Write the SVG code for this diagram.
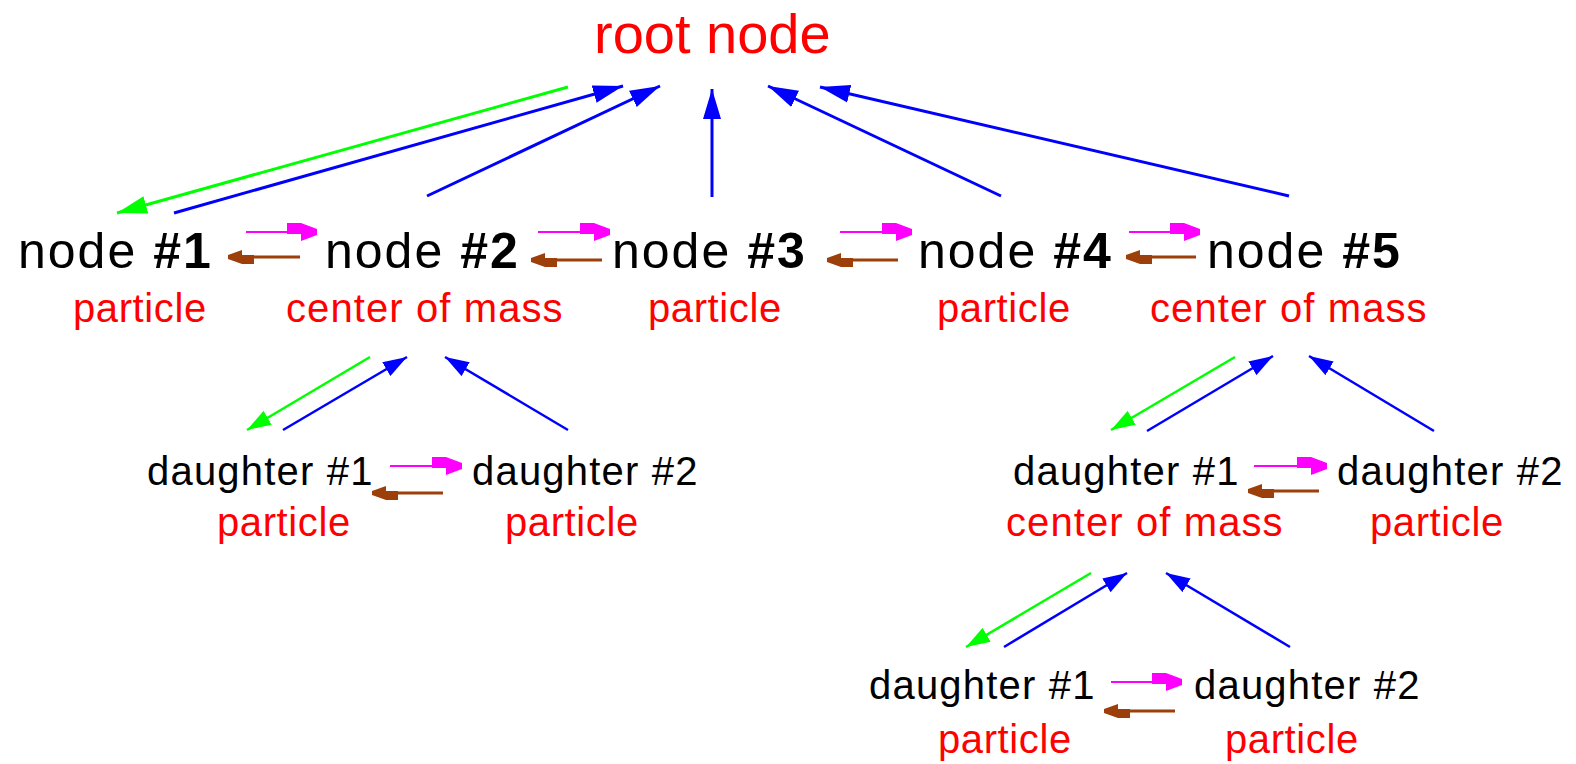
<svg xmlns="http://www.w3.org/2000/svg" width="1576" height="764" viewBox="0 0 1576 764">
  <style>
    text { font-family: "Liberation Sans", Arial, sans-serif; }
    .root { font-size: 56px; fill: #ff0000; }
    .node { font-size: 50px; fill: #000000; letter-spacing: 2px; }
    .node .num { font-weight: bold; }
    .kind { font-size: 40px; fill: #ff0000; letter-spacing: 0.6px; }
    .kind.com { letter-spacing: 1.1px; }
    .dau { font-size: 40px; fill: #000000; letter-spacing: 1.2px; }
    .up { stroke: #0000ff; fill: none; }
    .down { stroke: #00ff00; fill: none; }
    .next { stroke: #ff00ff; stroke-width: 2; fill: none; }
    .prev { stroke: #9c3f0a; stroke-width: 3; fill: none; }
    .big { stroke-width: 3; }
    .small { stroke-width: 2.5; }
  </style>
  <defs>
    <!-- tree links: large heads for the top level, smaller ones below -->
    <marker id="blueL" markerUnits="userSpaceOnUse" markerWidth="30" markerHeight="20" refX="30" refY="10" orient="auto">
      <path d="M0,1 L30,10 L0,19 z" fill="#0000ff"/>
    </marker>
    <marker id="greenL" markerUnits="userSpaceOnUse" markerWidth="30" markerHeight="20" refX="30" refY="10" orient="auto">
      <path d="M0,1 L30,10 L0,19 z" fill="#00ff00"/>
    </marker>
    <marker id="blueS" markerUnits="userSpaceOnUse" markerWidth="24" markerHeight="16" refX="24" refY="8" orient="auto">
      <path d="M0,0 L24,8 L0,16 z" fill="#0000ff"/>
    </marker>
    <marker id="greenS" markerUnits="userSpaceOnUse" markerWidth="24" markerHeight="16" refX="24" refY="8" orient="auto">
      <path d="M0,0 L24,8 L0,16 z" fill="#00ff00"/>
    </marker>
    <!-- sibling links -->
    <marker id="magHead" markerUnits="userSpaceOnUse" markerWidth="30" markerHeight="18" refX="30" refY="9" orient="auto">
      <path d="M0,0 L14,0 L30,6 L30,12 L14,18 L14,11 L0,11 z" fill="#ff00ff"/>
    </marker>
    <marker id="brnHead" markerUnits="userSpaceOnUse" markerWidth="26" markerHeight="14" refX="26" refY="7" orient="auto">
      <path d="M0,0 L12,0 L26,5 L26,9 L12,14 L12,9 L0,9 z" fill="#9c3f0a"/>
    </marker>
  </defs>

  <g id="connectors">
    <!-- root level -->
    <line class="down big" x1="568" y1="87" x2="117" y2="213" marker-end="url(#greenL)"/>
    <line class="up big" x1="174" y1="213" x2="623" y2="86" marker-end="url(#blueL)"/>
    <line class="up big" x1="427" y1="196" x2="660" y2="86" marker-end="url(#blueL)"/>
    <line class="up big" x1="712" y1="197" x2="712" y2="89" marker-end="url(#blueL)"/>
    <line class="up big" x1="1001" y1="196" x2="768" y2="86" marker-end="url(#blueL)"/>
    <line class="up big" x1="1289" y1="196" x2="820" y2="87" marker-end="url(#blueL)"/>
    <!-- sibling chain, level 1 -->
    <line class="next" x1="246" y1="232" x2="317" y2="232" marker-end="url(#magHead)"/>
    <line class="prev" x1="300" y1="257" x2="228" y2="257" marker-end="url(#brnHead)"/>
    <line class="next" x1="538" y1="232" x2="610" y2="232" marker-end="url(#magHead)"/>
    <line class="prev" x1="602" y1="260" x2="531" y2="260" marker-end="url(#brnHead)"/>
    <line class="next" x1="840" y1="232" x2="912" y2="232" marker-end="url(#magHead)"/>
    <line class="prev" x1="898" y1="260" x2="827" y2="260" marker-end="url(#brnHead)"/>
    <line class="next" x1="1129" y1="232" x2="1200" y2="232" marker-end="url(#magHead)"/>
    <line class="prev" x1="1196" y1="257" x2="1126" y2="257" marker-end="url(#brnHead)"/>
    <!-- children of node #2 -->
    <line class="down small" x1="370" y1="357" x2="247" y2="430" marker-end="url(#greenS)"/>
    <line class="up small" x1="283" y1="430" x2="407" y2="357" marker-end="url(#blueS)"/>
    <line class="up small" x1="568" y1="430" x2="445" y2="357" marker-end="url(#blueS)"/>
    <line class="next" x1="390" y1="466" x2="462" y2="466" marker-end="url(#magHead)"/>
    <line class="prev" x1="443" y1="493" x2="372" y2="493" marker-end="url(#brnHead)"/>
    <!-- children of node #5 -->
    <line class="down small" x1="1235" y1="357" x2="1111" y2="430" marker-end="url(#greenS)"/>
    <line class="up small" x1="1147" y1="431" x2="1273" y2="356" marker-end="url(#blueS)"/>
    <line class="up small" x1="1434" y1="431" x2="1309" y2="356" marker-end="url(#blueS)"/>
    <line class="next" x1="1254" y1="466" x2="1327" y2="466" marker-end="url(#magHead)"/>
    <line class="prev" x1="1319" y1="491" x2="1248" y2="491" marker-end="url(#brnHead)"/>
    <!-- children of node #5 / daughter #1 -->
    <line class="down small" x1="1091" y1="573" x2="966" y2="647" marker-end="url(#greenS)"/>
    <line class="up small" x1="1004" y1="647" x2="1127" y2="573" marker-end="url(#blueS)"/>
    <line class="up small" x1="1290" y1="647" x2="1166" y2="573" marker-end="url(#blueS)"/>
    <line class="next" x1="1111" y1="682" x2="1182" y2="682" marker-end="url(#magHead)"/>
    <line class="prev" x1="1175" y1="711" x2="1104" y2="711" marker-end="url(#brnHead)"/>
  </g>

  <g id="root">
    <text class="root" x="594" y="53">root node</text>
  </g>

  <g id="node1">
    <text class="node" x="18" y="268">node <tspan class="num">#1</tspan></text>
    <text class="kind" x="73" y="322">particle</text>
  </g>
  <g id="node2">
    <text class="node" x="325" y="268">node <tspan class="num">#2</tspan></text>
    <text class="kind com" x="286" y="322">center of mass</text>
  </g>
  <g id="node3">
    <text class="node" x="612" y="268">node <tspan class="num">#3</tspan></text>
    <text class="kind" x="648" y="322">particle</text>
  </g>
  <g id="node4">
    <text class="node" x="918" y="268">node <tspan class="num">#4</tspan></text>
    <text class="kind" x="937" y="322">particle</text>
  </g>
  <g id="node5">
    <text class="node" x="1207" y="268">node <tspan class="num">#5</tspan></text>
    <text class="kind com" x="1150" y="322">center of mass</text>
  </g>

  <g id="node2-daughter1">
    <text class="dau" x="147" y="485">daughter #1</text>
    <text class="kind" x="217" y="536">particle</text>
  </g>
  <g id="node2-daughter2">
    <text class="dau" x="472" y="485">daughter #2</text>
    <text class="kind" x="505" y="536">particle</text>
  </g>

  <g id="node5-daughter1">
    <text class="dau" x="1013" y="485">daughter #1</text>
    <text class="kind com" x="1006" y="536">center of mass</text>
  </g>
  <g id="node5-daughter2">
    <text class="dau" x="1337" y="485">daughter #2</text>
    <text class="kind" x="1370" y="536">particle</text>
  </g>

  <g id="node5-d1-daughter1">
    <text class="dau" x="869" y="699">daughter #1</text>
    <text class="kind" x="938" y="753">particle</text>
  </g>
  <g id="node5-d1-daughter2">
    <text class="dau" x="1194" y="699">daughter #2</text>
    <text class="kind" x="1225" y="753">particle</text>
  </g>
</svg>
